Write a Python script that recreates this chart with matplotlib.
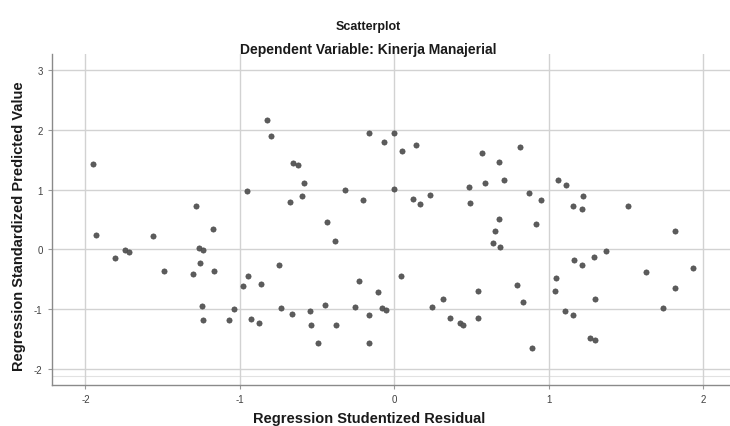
import numpy as np
import matplotlib
matplotlib.use("Agg")
from matplotlib import pyplot as plt

# Werte (Studentized Residual, Standardized Predicted Value)
resid_links = [-0.823, -0.797, -1.95, -0.955, -1.285, -1.93, -1.566, -1.175,
               -1.747, -1.717, -1.806, -1.266, -1.238, -1.259, -1.49, -1.305,
               -1.166, -0.747, -0.95, -0.983, -0.864, -1.248, -1.041, -1.24,
               -1.071, -0.927, -0.879, -0.736]
pred_links = [2.16, 1.90, 1.43, 0.97, 0.73, 0.245, 0.218, 0.335,
              -0.006, -0.045, -0.14, 0.028, -0.017, -0.22, -0.37, -0.41,
              -0.37, -0.263, -0.45, -0.62, -0.575, -0.95, -1.006, -1.19,
              -1.19, -1.173, -1.24, -0.983]

resid_mitte = [-0.162, -0.067, 0.0, 0.048, 0.138, -0.654, -0.622, -0.585,
               -0.674, -0.598, -0.317, -0.203, -0.004, 0.121, 0.166, 0.229,
               -0.434, -0.384, 0.568, 0.678, 0.814, 0.59, 0.713, 0.484,
               0.49, 0.87, 0.676, 0.65, 0.641, 0.682, 0.041, -0.231,
               -0.106, -0.451, -0.255, -0.663, -0.546, -0.164, -0.078, -0.054,
               -0.542, -0.376, -0.497, -0.162, 0.244, 0.315, 0.363, 0.425,
               0.443, 0.54, 0.542, 0.795, 0.834, 0.89]
pred_mitte = [1.94, 1.80, 1.944, 1.64, 1.75, 1.45, 1.41, 1.117,
              0.785, 0.90, 0.989, 0.827, 1.006, 0.838, 0.765, 0.916,
              0.458, 0.145, 1.609, 1.453, 1.72, 1.112, 1.168, 1.039,
              0.777, 0.947, 0.508, 0.307, 0.112, 0.045, -0.447, -0.536,
              -0.709, -0.933, -0.972, -1.084, -1.028, -1.10, -0.989, -1.017,
              -1.268, -1.263, -1.559, -1.564, -0.972, -0.838, -1.145, -1.229,
              -1.257, -1.156, -0.693, -0.598, -0.883, -1.647]

resid_rechts = [0.95, 0.918, 1.063, 1.115, 1.221, 1.154, 1.216, 1.513,
                1.82, 1.374, 1.294, 1.162, 1.216, 1.045, 1.039, 1.299,
                1.106, 1.154, 1.266, 1.30, 1.63, 1.935, 1.82, 1.742]
pred_rechts = [0.832, 0.419, 1.162, 1.073, 0.90, 0.726, 0.67, 0.72,
               0.307, -0.022, -0.128, -0.184, -0.263, -0.486, -0.704, -0.838,
               -1.034, -1.10, -1.475, -1.52, -0.38, -0.307, -0.654, -0.983]

x_ticks = [-2, -1, 0, 1, 2]
y_ticks = [-2, -1, 0, 1, 2, 3]

plt.rcParams['font.family'] = ['Liberation Sans', 'DejaVu Sans']

resid = np.array(resid_links + resid_mitte + resid_rechts)
pred = np.array(pred_links + pred_mitte + pred_rechts)

fig = plt.figure(figsize=(7.3, 4.27), dpi=100)
ax = fig.add_axes([0.0708, 0.096, 0.9292, 0.775])

ax.set_xlim(-2.219, 2.174)
ax.set_ylim(-2.269, 3.266)
ax.set_xticks(x_ticks)
ax.set_yticks(y_ticks)
ax.set_xticklabels([str(t) for t in x_ticks])
ax.set_yticklabels([str(t) for t in y_ticks])

ax.grid(True, color="#d2d2d2", linewidth=1.0)
ax.set_axisbelow(True)
ax.axhline(-2.12, color="#e2e2e2", linewidth=0.8, zorder=0)

for s in ["top", "right"]:
    ax.spines[s].set_visible(False)
for s in ["left", "bottom"]:
    ax.spines[s].set_color("#8a8a8a")
    ax.spines[s].set_linewidth(1.0)
ax.tick_params(length=3, color="#9a9a9a", labelsize=7, labelcolor="#404040")

ax.scatter(resid, pred, s=14, color="#5c5c5c", edgecolors="#4a4a4a",
           linewidths=0.5, zorder=3)

fig.text(0.505, 0.937, "Scatterplot", ha="center", va="center",
         fontsize=9, fontweight="bold", color="#1a1a1a")
fig.text(0.505, 0.882, "Dependent Variable: Kinerja Manajerial", ha="center",
         va="center", fontsize=10, fontweight="bold", color="#1a1a1a")
fig.text(0.505, 0.018, "Regression Studentized Residual", ha="center",
         va="center", fontsize=10.5, fontweight="bold", color="#1a1a1a")
fig.text(0.026, 0.47, "Regression Standardized Predicted Value", ha="center",
         va="center", rotation=90, fontsize=10.5, fontweight="bold",
         color="#1a1a1a")

fig.savefig("out.png", dpi=100, facecolor="white")
